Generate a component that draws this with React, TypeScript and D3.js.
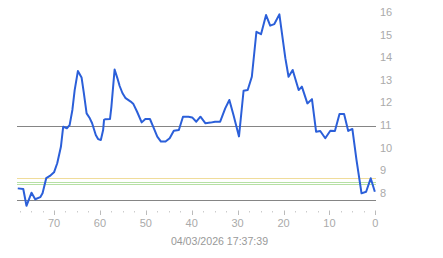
import React from "react";
import * as d3 from "d3";

// minutes ago (x) and price (y)
const minutesAgo = [
  77.9, 76.7, 76.0, 74.9, 74.1, 73.0, 72.5, 71.7, 70.9, 70.0, 69.3, 68.5, 68.0, 67.2, 66.6, 66.0,
  65.5, 64.8, 64.0, 63.5, 62.9, 62.2, 61.7, 60.9, 60.4, 59.8, 59.3, 59.1, 58.8, 57.8, 57.5, 56.8,
  56.2, 55.7, 55.1, 54.4, 53.3, 52.7, 51.9, 50.9, 50.1, 49.1, 48.4, 47.5, 46.7, 45.7, 44.8, 43.9,
  42.8, 41.9, 40.7, 39.9, 39.0, 38.1, 37.0, 35.9, 34.9, 33.8, 32.7, 31.8, 30.9, 29.7, 28.7, 27.8,
  26.9, 25.9, 24.9, 23.8, 22.9, 22.0, 20.9, 19.6, 18.9, 18.0, 16.7, 16.0, 14.8, 13.8, 12.9, 12.0,
  10.9, 9.8, 8.8, 7.8, 6.8, 5.9, 5.0, 4.1, 3.0, 2.0, 1.0, 0.1,
];
const prices = [
  8.24, 8.21, 7.47, 8.05, 7.76, 7.85, 8.02, 8.69, 8.79, 8.95, 9.35, 10.08, 10.97, 10.9, 11.04, 11.71,
  12.59, 13.43, 13.15, 12.45, 11.56, 11.34, 11.12, 10.6, 10.42, 10.38, 10.82, 11.27, 11.3, 11.31, 11.85, 13.5,
  13.12, 12.77, 12.46, 12.23, 12.08, 11.97, 11.63, 11.16, 11.31, 11.31, 10.97, 10.53, 10.31, 10.31, 10.46, 10.79,
  10.82, 11.41, 11.41, 11.38, 11.19, 11.41, 11.12, 11.15, 11.19, 11.19, 11.78, 12.15, 11.49, 10.54, 12.56, 12.59,
  13.18, 15.17, 15.06, 15.91, 15.44, 15.51, 15.94, 14.0, 13.18, 13.48, 12.59, 12.74, 12.0, 12.19, 10.75, 10.78,
  10.46, 10.79, 10.78, 11.53, 11.53, 10.78, 10.87, 9.5, 8.02, 8.09, 8.69, 8.09,
];
const yTicks = [8, 9, 10, 11, 12, 13, 14, 15, 16];
const xLabels = [70, 60, 50, 40, 30, 20, 10, 0];
const refGray = [11, 7.71];
const refYellow = [8.69];
const refGreen = [8.52, 8.43];
const timestamp = "04/03/2026 17:37:39";

export default function App() {
  const W = 443, H = 258;
  const x = d3.scaleLinear().domain([78, 0]).range([17.3, 375.3]);
  const y = d3.scaleLinear().domain([8, 16]).range([193.8, 13]);
  const pts = minutesAgo.map((m, i) => [m, prices[i]] as [number, number]);
  const line = d3.line<[number, number]>().x(d => x(d[0])).y(d => y(d[1]));
  const minorTicks = d3.range(0, 78.01, 2.5);
  const font = "Arial, 'Liberation Sans', sans-serif";
  const x0 = 17, x1 = 376;
  const snap = (v: number) => Math.floor(y(v)) + 0.5;
  return (
    <svg width={W} height={H} style={{ position: "absolute", left: 0, top: 0 }}>
      <rect width={W} height={H} fill="#fff" />
      {refYellow.map((v, i) => (
        <line key={"yl" + i} x1={x0} x2={x1} y1={snap(v)} y2={snap(v)} stroke="#f0dc9a" strokeWidth={1} />
      ))}
      {refGreen.map((v, i) => (
        <line key={"gr" + i} x1={x0} x2={x1} y1={snap(v)} y2={snap(v)} stroke="#b6e0a4" strokeWidth={1} />
      ))}
      {refGray.map((v, i) => (
        <line key={"g" + i} x1={x0} x2={x1} y1={snap(v)} y2={snap(v)} stroke="#858585" strokeWidth={1} />
      ))}
      <path d={line(pts) || ""} fill="none" stroke="#2b5fd9" strokeWidth={2} strokeLinejoin="round" />
      {minorTicks.map((t, i) => {
        const major = Math.abs(t % 10) < 0.01;
        return (
          <line key={"t" + i} x1={Math.round(x(t)) + 0.5} x2={Math.round(x(t)) + 0.5}
            y1={major ? 210.5 : 211} y2={major ? 215 : 212.5} stroke={major ? "#bbb" : "#ccc"} strokeWidth={1} />
        );
      })}
      {xLabels.map(t => (
        <text key={"xl" + t} x={x(t)} y={226.5} textAnchor="middle" fontFamily={font} fontSize={11} fill="#aaa">{t}</text>
      ))}
      {yTicks.map(v => (
        <text key={"yt" + v} x={380} y={y(v) + 3} fontFamily={font} fontSize={11} fill="#aaa">{v}</text>
      ))}
      <text x={219.5} y={244.5} textAnchor="middle" fontFamily={font} fontSize={10.6} fill="#999">{timestamp}</text>
    </svg>
  );
}
